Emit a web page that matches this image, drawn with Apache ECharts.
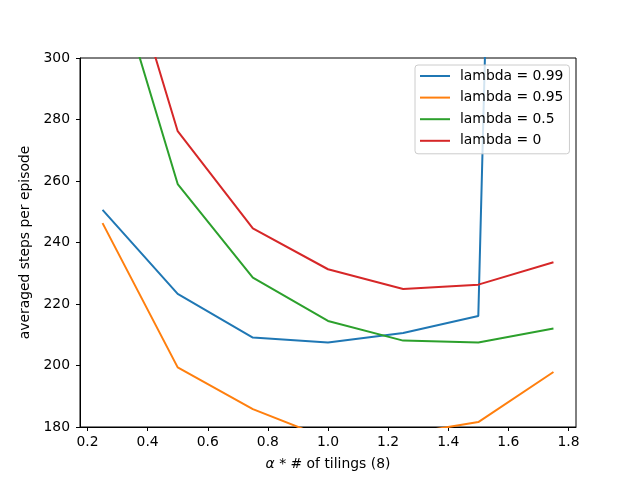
<!DOCTYPE html>
<html>
<head>
<meta charset="utf-8">
<script src="https://cdn.jsdelivr.net/npm/echarts@6/dist/echarts.min.js"></script>
<style>html,body{margin:0;padding:0;background:#fff}#c{width:640px;height:480px}</style>
</head>
<body>
<div id="c"></div>
<script>
const alphas = [0.25, 0.5, 0.75, 1.0, 1.25, 1.5, 1.75];
const lambda099 = [250.6, 223.3, 209.1, 207.5, 210.6, 216.1, 1170];
const lambda095 = [246.3, 199.4, 185.8, 176.2, 177.6, 181.6, 197.9];
const lambda05 = [340.3, 259.0, 228.6, 214.5, 208.1, 207.5, 212.0];
const lambda0 = [357.2, 276.2, 244.6, 231.3, 224.9, 226.3, 233.6];
const seriesNames = ['lambda = 0.99', 'lambda = 0.95', 'lambda = 0.5', 'lambda = 0'];
const xTicks = [0.2, 0.4, 0.6, 0.8, 1.0, 1.2, 1.4, 1.6, 1.8];
const colors = ['#1f77b4', '#ff7f0e', '#2ca02c', '#d62728'];

const font = 'DejaVu Sans';
const fs = 13.9;
const allSeries = [lambda099, lambda095, lambda05, lambda0];

const chart = echarts.init(document.getElementById('c'), null, {renderer: 'canvas'});
chart.setOption({
  animation: false,
  backgroundColor: '#fff',
  color: colors,
  grid: {left: 80, right: 64, top: 58, bottom: 53, show: true, borderColor: '#000', borderWidth: 1, backgroundColor: 'transparent'},
  legend: {
    orient: 'vertical',
    left: 415, top: 65,
    padding: [3, 6, 5, 5],
    itemWidth: 30, itemHeight: 2, itemGap: 5.6,
    icon: 'rect',
    borderColor: '#cccccc', borderWidth: 1, borderRadius: 3,
    backgroundColor: 'rgba(255,255,255,0.8)',
    textStyle: {fontFamily: font, fontSize: fs, color: '#000', lineHeight: 16, padding: [0, 0, 0, 5]},
    data: seriesNames
  },
  xAxis: {
    type: 'value', min: 0.175, max: 1.825,
    name: '{i|α} * # of tilings (8)', nameLocation: 'middle', nameGap: 30,
    nameTextStyle: {fontFamily: font, fontSize: fs, color: '#000', rich: {i: {fontFamily: font, fontSize: fs, fontStyle: 'italic', color: '#000'}}},
    axisLine: {show: true, onZero: false, lineStyle: {color: '#000', width: 1}},
    axisTick: {show: true, inside: false, length: 4, lineStyle: {color: '#000'}, customValues: xTicks},
    axisLabel: {show: true, margin: 8, fontFamily: font, fontSize: fs, color: '#000', customValues: xTicks, formatter: v => v.toFixed(1)},
    splitLine: {show: false}
  },
  yAxis: {
    type: 'value', min: 180, max: 300, interval: 20,
    name: 'averaged steps per episode', nameLocation: 'middle', nameGap: 39,
    nameTextStyle: {fontFamily: font, fontSize: fs, color: '#000'},
    axisLine: {show: true, onZero: false, lineStyle: {color: '#000', width: 1}},
    axisTick: {show: true, inside: false, length: 4, lineStyle: {color: '#000'}},
    axisLabel: {show: true, margin: 10, fontFamily: font, fontSize: fs, color: '#000'},
    splitLine: {show: false}
  },
  series: allSeries.map((vals, i) => ({
    name: seriesNames[i],
    type: 'line',
    data: alphas.map((a, j) => [a, vals[j]]),
    symbol: 'none',
    clip: true,
    lineStyle: {width: 2, color: colors[i]},
    itemStyle: {color: colors[i]}
  }))
});
</script>
</body>
</html>
